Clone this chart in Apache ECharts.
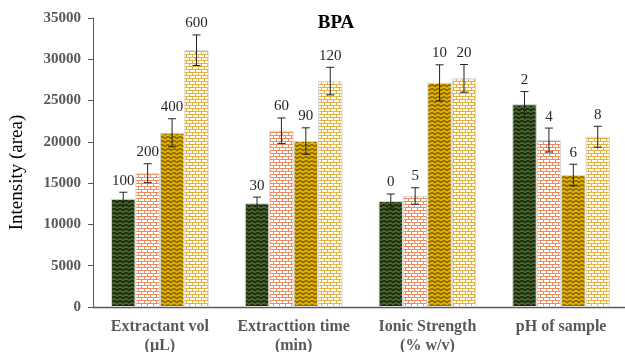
<!DOCTYPE html>
<html>
<head>
<meta charset="utf-8">
<script src="https://cdn.jsdelivr.net/npm/echarts@6/dist/echarts.min.js"></script>
<style>
  html, body { margin: 0; padding: 0; background: #fff; }
  #chart { width: 625px; height: 352px; }
</style>
</head>
<body>
<div id="chart"></div>
<script>
// categories and level values
const categories = ['Extractant vol\n(µL)', 'Extracttion time\n(min)', 'Ionic Strength\n(% w/v)', 'pH of sample']
const yTicks = [0, 5000, 10000, 15000, 20000, 25000, 30000, 35000]

const level1 = [13100, 12550, 12830, 24540]
const level2 = [16200, 21340, 13440, 20220]
const level3 = [21100, 20100, 27150, 15980]
const level4 = [31100, 27360, 27690, 20620]

const err1 = [800, 760, 850, 1550]
const err2 = [1150, 1550, 1000, 1450]
const err3 = [1700, 1600, 2180, 1310]
const err4 = [1850, 1670, 1680, 1270]

const labels1 = ['100', '30', '0', '2']
const labels2 = ['200', '60', '5', '4']
const labels3 = ['400', '90', '10', '6']
const labels4 = ['600', '120', '20', '8']

const FONT = '"Liberation Serif", "Times New Roman", serif'
const CAT_GAP = 0.27

// canvas patterns
function zigzag(bg, fg) {
  const c = document.createElement('canvas')
  c.width = 6; c.height = 4
  const g = c.getContext('2d')
  g.fillStyle = bg
  g.fillRect(0, 0, 6, 4)
  g.strokeStyle = fg
  g.lineWidth = 1.4
  g.beginPath()
  g.moveTo(0, 0.5); g.lineTo(3, 2.5); g.lineTo(6, 0.5)
  g.stroke()
  return c
}

function brick(bg, fg) {
  const c = document.createElement('canvas')
  c.width = 12; c.height = 6
  const g = c.getContext('2d')
  g.fillStyle = bg
  g.fillRect(0, 0, 12, 6)
  g.fillStyle = fg
  g.fillRect(0, 0, 12, 1)
  g.fillRect(0, 3, 12, 1)
  g.fillRect(0, 0, 1, 3)
  g.fillRect(6, 0, 1, 3)
  g.fillRect(3, 3, 1, 3)
  g.fillRect(9, 3, 1, 3)
  return c
}

const fills = [
  { image: zigzag('#48652a', '#121c0a'), repeat: 'repeat' },
  { image: brick('#ffffff', '#ee8a5c'), repeat: 'repeat' },
  { image: zigzag('#e0b000', '#7a5c00'), repeat: 'repeat' },
  { image: brick('#fffbee', '#e3b13e'), repeat: 'repeat' }
]

const levels = [level1, level2, level3, level4]
const errs = [err1, err2, err3, err4]
const labels = [labels1, labels2, labels3, labels4]

const chart = echarts.init(document.getElementById('chart'))

const barSeries = levels.map((vals, i) => ({
  type: 'bar',
  data: vals,
  barGap: '0%',
  barCategoryGap: (CAT_GAP * 100) + '%',
  itemStyle: { color: fills[i], borderColor: '#d9d9d9', borderWidth: 1 },
  silent: true
}))

// error bars + value labels
const errSeries = levels.map((vals, i) => ({
  type: 'custom',
  data: vals.map((v, k) => [k, v, errs[i][k]]),
  z: 10,
  silent: true,
  renderItem: function (params, api) {
    const k = api.value(0)
    const v = api.value(1)
    const e = api.value(2)
    const band = api.size([1, 0])[0]
    const bw = band * (1 - CAT_GAP) / 4
    const top = api.coord([k, v + e])
    const bot = api.coord([k, v - e])
    const x = top[0] + (i - 1.5) * bw
    const cap = 4
    const st = { stroke: '#222', lineWidth: 1 }
    return {
      type: 'group',
      children: [
        { type: 'line', shape: { x1: x, y1: top[1], x2: x, y2: bot[1] }, style: st },
        { type: 'line', shape: { x1: x - cap, y1: top[1], x2: x + cap, y2: top[1] }, style: st },
        { type: 'line', shape: { x1: x - cap, y1: bot[1], x2: x + cap, y2: bot[1] }, style: st },
        {
          type: 'text',
          style: {
            text: labels[i][k], x: x, y: top[1] - 4,
            align: 'center', verticalAlign: 'bottom',
            font: '15px ' + FONT, fill: '#262626'
          }
        }
      ]
    }
  }
}))

chart.setOption({
  animation: false,
  title: {
    text: 'BPA',
    left: 331, top: 9, textAlign: 'center',
    textStyle: { fontFamily: FONT, fontWeight: 'bold', fontSize: 19, color: '#000' }
  },
  grid: { left: 93, top: 18, width: 535, bottom: 45, containLabel: false, outerBoundsMode: 'none' },
  xAxis: {
    type: 'category',
    data: categories,
    axisLine: { lineStyle: { color: '#595959', width: 1.3 } },
    axisTick: { show: false },
    axisLabel: {
      interval: 0, margin: 10, lineHeight: 19,
      fontFamily: FONT, fontWeight: 'bold', fontSize: 16, color: '#595959'
    }
  },
  yAxis: {
    type: 'value',
    min: yTicks[0], max: yTicks[yTicks.length - 1], interval: 5000,
    name: 'Intensity (area)',
    nameLocation: 'middle',
    nameGap: 66,
    nameTextStyle: { fontFamily: FONT, fontSize: 19, color: '#000', padding: [0, 20, 0, 0] },
    axisLine: { show: true, lineStyle: { color: '#595959' } },
    axisTick: { show: true, length: 5, lineStyle: { color: '#595959' } },
    splitLine: { show: false },
    axisLabel: {
      margin: 12,
      formatter: v => String(v),
      fontFamily: FONT, fontWeight: 'bold', fontSize: 15, color: '#595959'
    }
  },
  series: [...barSeries, ...errSeries]
})
</script>
</body>
</html>
